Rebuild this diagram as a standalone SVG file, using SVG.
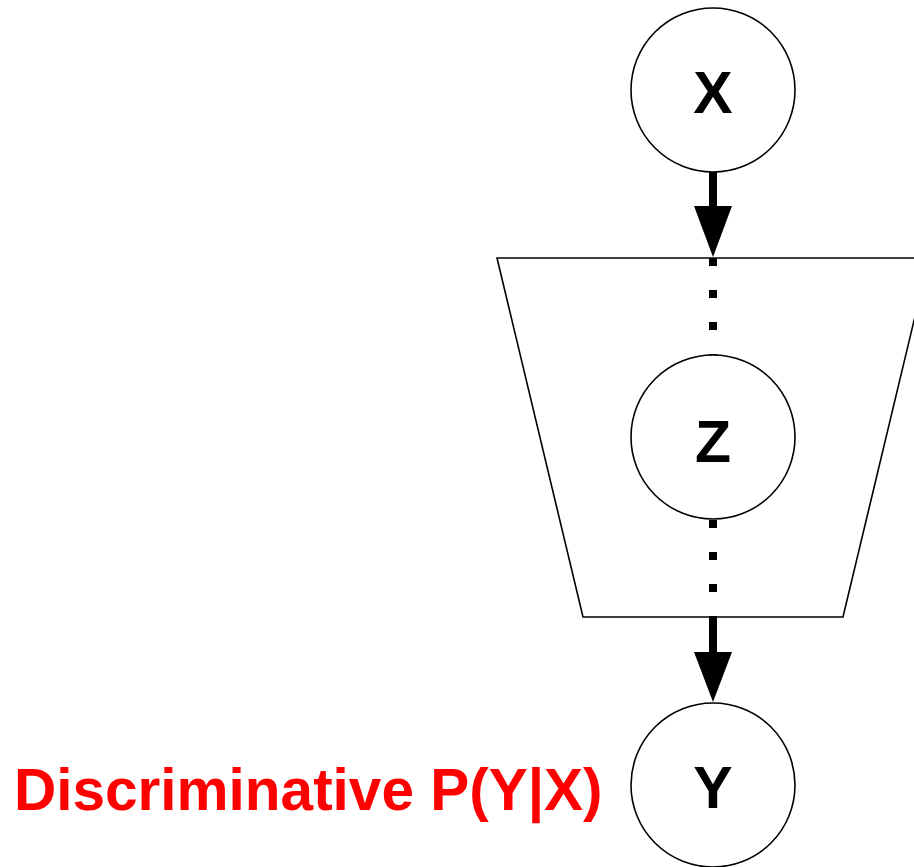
<svg xmlns="http://www.w3.org/2000/svg" width="914" height="867" viewBox="0 0 914 867">
  <style>
    .node { fill: #ffffff; stroke: #000000; stroke-width: 1.6; }
    .plate { fill: #ffffff; stroke: #000000; stroke-width: 1.6; }
    .var { font-family: "Liberation Sans", Arial, sans-serif; font-weight: bold; font-size: 59px; fill: #000000; text-anchor: middle; }
    .label { font-family: "Liberation Sans", Arial, sans-serif; font-weight: bold; font-size: 58.5px; fill: #ff0000; }
    .shaft { stroke: #000000; stroke-width: 8; fill: none; }
    .dots { stroke: #000000; stroke-width: 8; fill: none; stroke-dasharray: 8 24; }
    .head { fill: #000000; }
  </style>

  <!-- encoder/decoder plate -->
  <g id="plate">
    <polygon class="plate" points="497,258 929,258 843,617 583,617"/>
  </g>

  <!-- edges: solid into and out of the plate, dotted inside it -->
  <g id="connectors">
    <line class="shaft" x1="713" y1="172" x2="713" y2="208"/>
    <polygon class="head" points="694,206 732,206 713,257"/>
    <line class="dots" x1="713" y1="258" x2="713" y2="356"/>
    <line class="dots" x1="713" y1="520" x2="713" y2="617"/>
    <line class="shaft" x1="713" y1="617" x2="713" y2="654"/>
    <polygon class="head" points="694,652 732,652 713,702"/>
  </g>

  <g id="node-x">
    <circle class="node" cx="713" cy="90" r="82"/>
    <text class="var" x="713" y="113">X</text>
  </g>

  <g id="node-z">
    <circle class="node" cx="713" cy="437" r="82"/>
    <text class="var" x="713" y="462">Z</text>
  </g>

  <g id="node-y">
    <circle class="node" cx="713" cy="785" r="82"/>
    <text class="var" x="713" y="808">Y</text>
  </g>

  <g id="caption">
    <text class="label" x="14" y="810">Discriminative P(Y|X)</text>
  </g>
</svg>
